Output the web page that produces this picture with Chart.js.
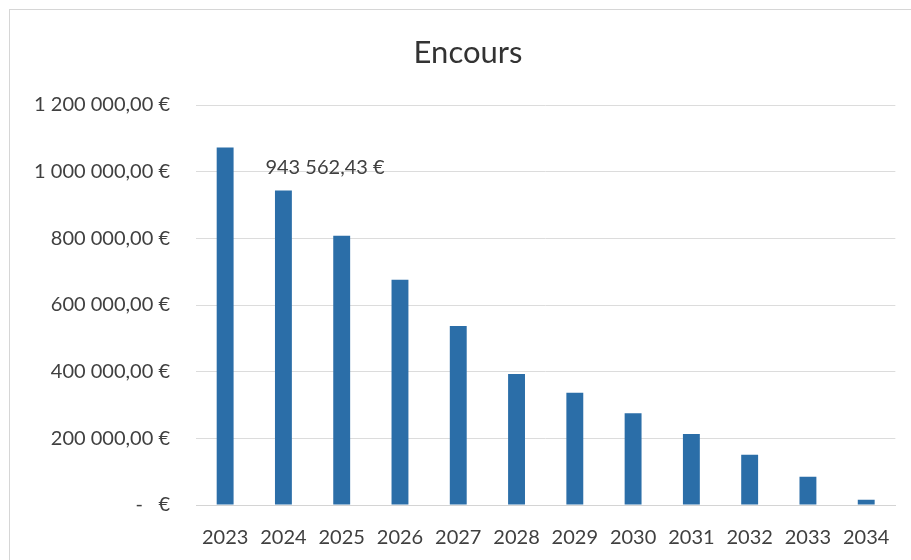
<!DOCTYPE html>
<html>
<head>
<meta charset="utf-8">
<script src="https://cdn.jsdelivr.net/npm/chart.js@4/dist/chart.umd.min.js"></script>
<style>
	html, body { margin: 0; padding: 0; background: #fff; }
	#wrap { position: relative; width: 911px; height: 560px; }
	#frame { position: absolute; left: 9px; top: 9px; right: 0; bottom: 0; border-left: 1px solid #d6d6d6; border-top: 1px solid #d6d6d6; }
</style>
</head>
<body>
<div id="wrap">
	<div id="frame"></div>
	<canvas id="myChart" width="911" height="560"></canvas>
</div>
<script>
// data
const years = ['2023', '2024', '2025', '2026', '2027', '2028', '2029', '2030', '2031', '2032', '2033', '2034'];
const encours = [1072800, 943562.43, 807500, 675700, 536800, 393000, 337000, 275000, 213000, 150600, 84700, 16000];
const yTicks = [0, 200000, 400000, 600000, 800000, 1000000, 1200000];
const labelIndex = 1; // only 2024 shows its value
const chartTitle = 'Encours';

// french money format: "1 200 000,00 €", zero as "-   €"
function euro(v) {
	if (v === 0) return '-   €';
	let parts = v.toFixed(2).split('.');
	let intPart = parts[0].replace(/\B(?=(\d{3})+(?!\d))/g, ' ');
	return intPart + ',' + parts[1] + ' €';
}

const valueLabel = {
	id: 'valueLabel',
	afterDatasetsDraw(chart) {
		const ctx = chart.ctx;
		const bar = chart.getDatasetMeta(0).data[labelIndex];
		ctx.save();
		ctx.font = '20px Lato';
		ctx.fillStyle = '#404040';
		ctx.textAlign = 'left';
		ctx.textBaseline = 'middle';
		ctx.fillText(euro(encours[labelIndex]), bar.x - 18, bar.y - 23);
		ctx.restore();
	}
};

// title drawn by hand: the original frame is wider than the crop, so it is not centred on the canvas
const frameTitle = {
	id: 'frameTitle',
	afterDraw(chart) {
		const ctx = chart.ctx;
		ctx.save();
		ctx.font = '31px Lato';
		ctx.fillStyle = '#333333';
		ctx.textAlign = 'center';
		ctx.textBaseline = 'middle';
		ctx.fillText(chartTitle, 468, 53);
		ctx.restore();
	}
};

let canvas = document.getElementById('myChart').getContext('2d');
let myChart = new Chart(canvas, {
	type: 'bar',
	data: {
		labels: years,
		datasets: [
			{
				label: 'Encours',
				data: encours,
				backgroundColor: '#2b6ea8',
				borderColor: '#2b6ea8',
				borderWidth: 0,
				categoryPercentage: 1,
				barPercentage: 0.29
			}
		]
	},
	plugins: [valueLabel, frameTitle],
	options: {
		responsive: false,
		animation: false,
		layout: {
			padding: { left: 10, right: 14, top: 105, bottom: 0 }
		},
		scales: {
			x: {
				afterFit: (scale) => {
					scale.height = 55;
				},
				grid: { display: false, drawTicks: false },
				border: { display: true, color: '#d4d4d4', width: 1 },
				ticks: {
					color: '#404040',
					font: { family: 'Lato', size: 20 },
					padding: 21,
					maxRotation: 0
				}
			},
			y: {
				min: 0,
				max: 1200000,
				afterBuildTicks: (scale) => {
					scale.ticks = yTicks.map((v) => ({ value: v }));
				},
				afterFit: (scale) => {
					scale.width = 186;
				},
				grid: { color: '#dcdcdc', drawTicks: false },
				border: { display: false },
				ticks: {
					color: '#404040',
					font: { family: 'Lato', size: 20 },
					padding: 26,
					callback: (v) => euro(v)
				}
			}
		},
		plugins: {
			legend: { display: false },
			tooltip: { enabled: false },
			title: { display: false }
		}
	}
});
</script>
</body>
</html>
